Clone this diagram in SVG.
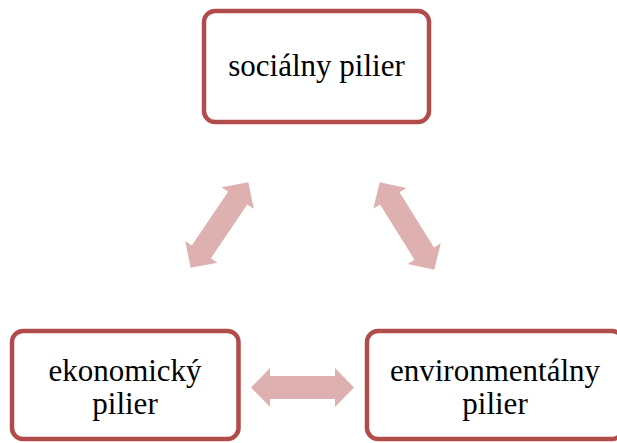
<svg xmlns="http://www.w3.org/2000/svg" width="617" height="443" viewBox="0 0 617 443">
<style>
.box{fill:#ffffff;stroke:#b24c4a;stroke-width:4.5}
.lbl{font-size:31px;fill:#000;text-anchor:middle}
.arr{fill:#deb1b0}
</style>
<defs>
<path id="dbl" d="M -51.5 0 L -32.5 -19.5 L -32.5 -11.5 L 32.5 -11.5 L 32.5 -19.5 L 51.5 0 L 32.5 19.5 L 32.5 11.5 L -32.5 11.5 L -32.5 19.5 Z"/>
</defs>
<rect width="617" height="443" fill="#ffffff"/>
<g id="connectors">
<use href="#dbl" class="arr" transform="translate(219.5,225) rotate(-56)"/>
<use href="#dbl" class="arr" transform="translate(407,226) rotate(58)"/>
<use href="#dbl" class="arr" transform="translate(302.5,387.5)"/>
</g>
<g font-family="Liberation Serif, DejaVu Serif, serif">
<g id="socialny">
<rect class="box" x="204" y="11" width="225" height="111" rx="11"/>
<text class="lbl" x="316.5" y="76">sociálny pilier</text>
</g>
<g id="ekonomicky">
<rect class="box" x="12" y="331" width="226.5" height="108" rx="11"/>
<text class="lbl" x="125" y="381">ekonomický</text>
<text class="lbl" x="125" y="414">pilier</text>
</g>
<g id="environmentalny">
<rect class="box" x="367" y="331" width="256" height="108" rx="11"/>
<text class="lbl" x="495" y="381">environmentálny</text>
<text class="lbl" x="495" y="414">pilier</text>
</g>
</g>
</svg>
